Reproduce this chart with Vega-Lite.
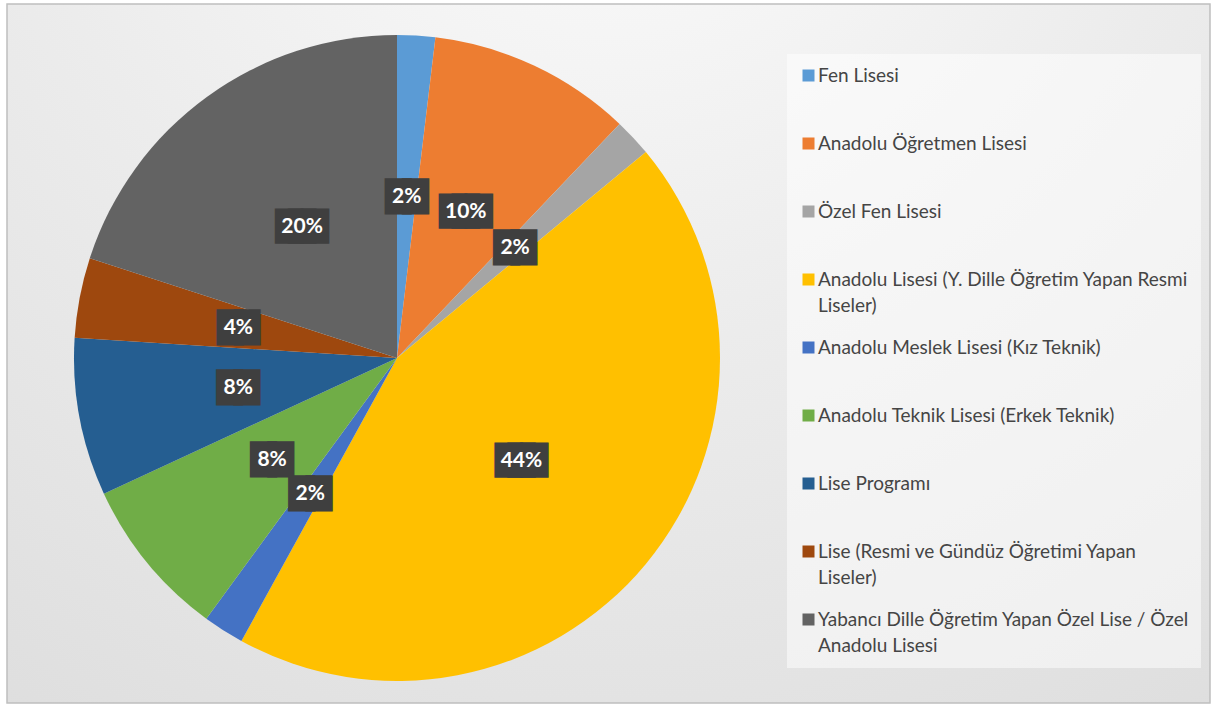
{
  "$schema": "https://vega.github.io/schema/vega-lite/v6.json",
  "width": 1203,
  "height": 699,
  "autosize": {"type": "none"},
  "padding": {"left": 7, "top": 4, "right": 2, "bottom": 3},
  "background": "#ffffff",
  "view": {
    "stroke": "#bfbfbf",
    "strokeWidth": 1.5,
    "fill": {
      "gradient": "radial",
      "x1": 0.5, "y1": 0, "r1": 0,
      "x2": 0.5, "y2": 0, "r2": 1.15,
      "stops": [
        {"offset": 0, "color": "#fdfdfd"},
        {"offset": 0.43, "color": "#ececec"},
        {"offset": 1, "color": "#d8d8d8"}
      ]
    }
  },
  "data": {
    "values": [
      {"order": 1, "category": "Fen Lisesi", "value": 1.9, "label": "2%"},
      {"order": 2, "category": "Anadolu Öğretmen Lisesi", "value": 10.2, "label": "10%"},
      {"order": 3, "category": "Özel Fen Lisesi", "value": 1.9, "label": "2%"},
      {"order": 4, "category": "Anadolu Lisesi (Y. Dille Öğretim Yapan Resmi Liseler)", "value": 44.0, "label": "44%"},
      {"order": 5, "category": "Anadolu Meslek Lisesi (Kız Teknik)", "value": 2.05, "label": "2%"},
      {"order": 6, "category": "Anadolu Teknik Lisesi (Erkek Teknik)", "value": 8.05, "label": "8%"},
      {"order": 7, "category": "Lise Programı", "value": 7.9, "label": "8%"},
      {"order": 8, "category": "Lise (Resmi ve Gündüz Öğretimi Yapan Liseler)", "value": 4.0, "label": "4%"},
      {"order": 9, "category": "Yabancı Dille Öğretim Yapan Özel Lise / Özel Anadolu Lisesi", "value": 20.0, "label": "20%"}
    ]
  },
  "encoding": {
    "theta": {"field": "value", "type": "quantitative", "stack": true},
    "order": {"field": "order", "type": "quantitative"}
  },
  "layer": [
    {
      "mark": {"type": "arc", "outerRadius": 323, "x": 390, "y": 354},
      "encoding": {
        "color": {
          "field": "category",
          "type": "nominal",
          "scale": {
            "domain": [
              "Fen Lisesi",
              "Anadolu Öğretmen Lisesi",
              "Özel Fen Lisesi",
              "Anadolu Lisesi (Y. Dille Öğretim Yapan Resmi Liseler)",
              "Anadolu Meslek Lisesi (Kız Teknik)",
              "Anadolu Teknik Lisesi (Erkek Teknik)",
              "Lise Programı",
              "Lise (Resmi ve Gündüz Öğretimi Yapan Liseler)",
              "Yabancı Dille Öğretim Yapan Özel Lise / Özel Anadolu Lisesi"
            ],
            "range": ["#5B9BD5", "#ED7D31", "#A5A5A5", "#FFC000", "#4472C4", "#70AD47", "#255E91", "#9E480E", "#636363"]
          },
          "legend": {
            "title": null,
            "orient": "none",
            "legendX": 780,
            "legendY": 50,
            "direction": "vertical",
            "symbolType": "square",
            "symbolSize": 144,
            "symbolStrokeWidth": 0,
            "labelFont": "Lato",
            "labelFontSize": 19,
            "labelColor": "#454545",
            "labelLimit": 420,
            "labelOffset": 0,
            "fillColor": "rgba(255,255,255,0.5)",
            "padding": 12,
            "gridAlign": "all",
            "rowPadding": 22,
            "labelExpr": "datum.label == 'Anadolu Lisesi (Y. Dille Öğretim Yapan Resmi Liseler)' ? ['Anadolu Lisesi (Y. Dille Öğretim Yapan Resmi', 'Liseler)'] : datum.label == 'Lise (Resmi ve Gündüz Öğretimi Yapan Liseler)' ? ['Lise (Resmi ve Gündüz Öğretimi Yapan', 'Liseler)'] : datum.label == 'Yabancı Dille Öğretim Yapan Özel Lise / Özel Anadolu Lisesi' ? ['Yabancı Dille Öğretim Yapan Özel Lise / Özel', 'Anadolu Lisesi'] : datum.label"
          }
        }
      }
    },
    {
      "mark": {
        "type": "text",
        "radius": 161.5,
        "x": 390,
        "y": 354,
        "font": "DejaVu Sans",
        "fill": "#3f3f3f",
        "stroke": "#3f3f3f",
        "strokeJoin": "miter",
        "baseline": "middle",
        "align": "center"
      },
      "encoding": {
        "detail": {"field": "category", "type": "nominal"},
        "text": {
          "condition": {"test": "length(datum.label) > 2", "value": "███"},
          "value": "██"
        },
        "size": {
          "condition": {"test": "length(datum.label) > 2", "value": 16.7},
          "value": 22.4
        },
        "strokeWidth": {
          "condition": {"test": "length(datum.label) > 2", "value": 15.6},
          "value": 9.7
        }
      }
    },
    {
      "mark": {
        "type": "text",
        "radius": 161.5,
        "x": 390,
        "y": 354,
        "font": "Lato",
        "fontSize": 21,
        "fontWeight": "bold",
        "fill": "#ffffff",
        "baseline": "middle",
        "align": "center"
      },
      "encoding": {
        "detail": {"field": "category", "type": "nominal"},
        "text": {"field": "label", "type": "nominal"}
      }
    }
  ],
  "config": {
    "style": {"guide-label": {"lineHeight": 26}}
  }
}
